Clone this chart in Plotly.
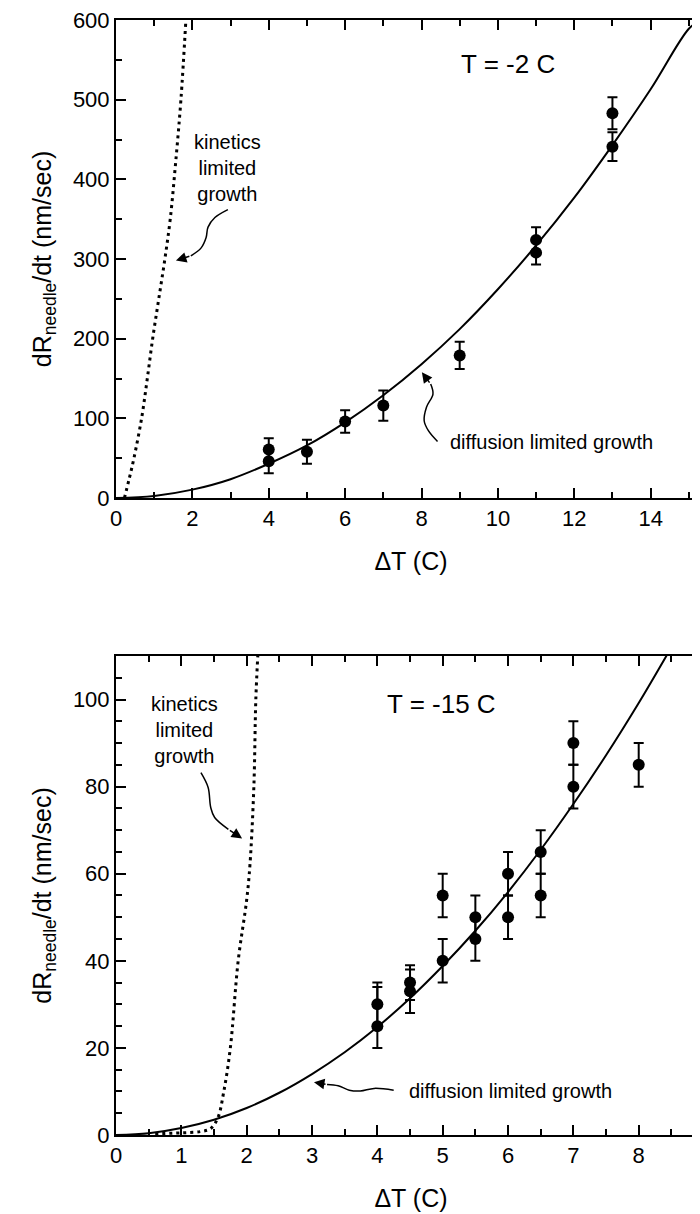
import plotly.graph_objects as go

# ---------------- data: top panel (T = -2 C) ----------------
top_dT = [4, 4, 5, 6, 7, 9, 11, 11, 13, 13]
top_rate = [61, 46, 58, 96, 116, 179, 324, 308, 483, 441]
top_err = [14, 15, 15, 14, 19, 17, 16, 15, 20, 18]

top_diff_x = [0, 1, 2, 3, 4, 5, 6, 7, 8, 9, 10, 11, 12, 13, 14, 15, 15.3]
top_diff_y = [0, 2.6, 10.5, 23.6, 43, 66, 95, 129, 168, 212, 262, 317, 377, 443, 513, 589, 600]

top_kin_x = [0.22, 0.35, 0.47, 0.67, 0.82, 0.96, 1.12, 1.28, 1.42, 1.56, 1.70, 1.83]
top_kin_y = [0, 25, 50, 100, 150, 200, 250, 300, 350, 420, 500, 600]

# ---------------- data: bottom panel (T = -15 C) ----------------
bot_dT = [4, 4, 4.5, 4.5, 5, 5, 5.5, 5.5, 6, 6, 6.5, 6.5, 7, 7, 8]
bot_rate = [30, 25, 35, 33, 55, 40, 50, 45, 60, 50, 65, 55, 90, 80, 85]
bot_err_plus = [5, 9, 4, 5, 5, 5, 5, 5, 5, 5, 5, 5, 5, 5, 5]
bot_err_minus = [5, 5, 4, 5, 5, 5, 5, 5, 5, 5, 5, 5, 5, 5, 5]

bot_diff_x = [0, 0.5, 1, 1.5, 2, 2.5, 3, 3.5, 4, 4.5, 5, 5.5, 6, 6.5, 7, 7.5, 8, 8.45]
bot_diff_y = [0, 0.4, 1.6, 3.5, 6.2, 9.7, 14, 19, 24.8, 31.4, 38.8, 46.9, 55.8, 65.5, 76, 87.2, 99.2, 110.7]

bot_kin_x = [0.6, 1.0, 1.3, 1.45, 1.56, 1.65, 1.75, 1.87, 2.0, 2.05, 2.11, 2.14, 2.17]
bot_kin_y = [0.3, 0.5, 0.8, 1.5, 4, 10, 20, 40, 54, 62, 80, 100, 110]

# curved annotation arrows (body points, last = arrow head)
top_kin_arrow_x = [2.93, 2.59, 2.41, 2.36, 2.23, 1.96, 1.57]
top_kin_arrow_y = [362, 352, 340, 327, 314, 304, 298]
top_diff_arrow_x = [8.42, 8.18, 8.07, 8.13, 8.30, 8.24, 8.01]
top_diff_arrow_y = [71, 84.5, 97, 114, 130.5, 143, 158]
bot_kin_arrow_x = [1.30, 1.41, 1.45, 1.51, 1.72, 1.93]
bot_kin_arrow_y = [83.2, 79.8, 75.2, 72.9, 70.2, 68.1]
bot_diff_arrow_x = [4.25, 3.95, 3.74, 3.57, 3.40, 3.23, 3.03]
bot_diff_arrow_y = [10.3, 10.7, 10.1, 10.3, 11.3, 11.6, 12.1]

FONT = "Liberation Sans, Arial, sans-serif"
BLACK = "#000000"

fig = go.Figure()

def add_panel(xa, ya, dx, dy, kx, ky, px, py, eplus, eminus):
    fig.add_trace(go.Scatter(x=kx, y=ky, mode="lines", xaxis=xa, yaxis=ya,
                             line=dict(color=BLACK, width=3, dash="3px,4px", shape="spline"),
                             showlegend=False, hoverinfo="skip"))
    fig.add_trace(go.Scatter(x=dx, y=dy, mode="lines", xaxis=xa, yaxis=ya,
                             line=dict(color=BLACK, width=2, shape="spline"),
                             showlegend=False, hoverinfo="skip"))
    fig.add_trace(go.Scatter(x=px, y=py, mode="markers", xaxis=xa, yaxis=ya,
                             marker=dict(color=BLACK, size=12),
                             error_y=dict(type="data", symmetric=False, array=eplus,
                                          arrayminus=eminus, color=BLACK,
                                          thickness=2, width=5),
                             showlegend=False))

add_panel("x", "y", top_diff_x, top_diff_y, top_kin_x, top_kin_y,
          top_dT, top_rate, top_err, top_err)
add_panel("x2", "y2", bot_diff_x, bot_diff_y, bot_kin_x, bot_kin_y,
          bot_dT, bot_rate, bot_err_plus, bot_err_minus)

def add_arrow(xa, ya, ax_list, ay_list):
    fig.add_trace(go.Scatter(x=ax_list[:-1], y=ay_list[:-1], mode="lines", xaxis=xa, yaxis=ya,
                             line=dict(color=BLACK, width=1.5, shape="spline"),
                             showlegend=False, hoverinfo="skip"))
    fig.add_annotation(x=ax_list[-1], y=ay_list[-1], ax=ax_list[-2], ay=ay_list[-2],
                       xref=xa, yref=ya, axref=xa, ayref=ya, text="",
                       showarrow=True, arrowhead=2, arrowsize=1.4, arrowwidth=1.5,
                       arrowcolor=BLACK)

add_arrow("x", "y", top_kin_arrow_x, top_kin_arrow_y)
add_arrow("x", "y", top_diff_arrow_x, top_diff_arrow_y)
add_arrow("x2", "y2", bot_kin_arrow_x, bot_kin_arrow_y)
add_arrow("x2", "y2", bot_diff_arrow_x, bot_diff_arrow_y)

txt = dict(font=dict(family=FONT, size=20, color=BLACK), showarrow=False)
big = dict(font=dict(family=FONT, size=26, color=BLACK), showarrow=False)
fig.add_annotation(x=10.26, y=545, xref="x", yref="y", text="T = -2 C", **big)
fig.add_annotation(x=2.93, y=414, xref="x", yref="y",
                   text="kinetics<br>limited<br>growth", align="center", **txt)
fig.add_annotation(x=8.7, y=70, xref="x", yref="y", xanchor="left",
                   text="diffusion limited growth", **txt)
fig.add_annotation(x=4.98, y=99, xref="x2", yref="y2", text="T = -15 C", **big)
fig.add_annotation(x=1.05, y=93, xref="x2", yref="y2",
                   text="kinetics<br>limited<br>growth", align="center", **txt)
fig.add_annotation(x=4.46, y=10, xref="x2", yref="y2", xanchor="left",
                   text="diffusion limited growth", **txt)

axis_common = dict(showline=True, linecolor=BLACK, linewidth=2, mirror="allticks",
                   ticks="inside", ticklen=10, tickwidth=2, tickcolor=BLACK,
                   showgrid=False, zeroline=False, automargin=False,
                   ticklabeloverflow="allow",
                   tickfont=dict(family=FONT, size=22, color=BLACK))
title_font = dict(family=FONT, size=25, color=BLACK)
ytitle = "dR<sub>needle</sub>/dt (nm/sec)"

fig.update_layout(
    width=700, height=1214,
    margin=dict(l=108, r=2, t=12, b=87),
    paper_bgcolor="white", plot_bgcolor="white",
    xaxis=dict(domain=[0, 1], range=[0, 15.45], anchor="y", dtick=2,
               minor=dict(dtick=1, ticks="inside", ticklen=6, tickwidth=2, tickcolor=BLACK),
               title=dict(text="ΔT (C)", font=title_font, standoff=22), **axis_common),
    yaxis=dict(domain=[0.5713, 1], range=[0, 600], anchor="x", dtick=100,
               minor=dict(dtick=50, ticks="inside", ticklen=6, tickwidth=2, tickcolor=BLACK),
               title=dict(text=ytitle, font=title_font, standoff=14),
               **axis_common),
    xaxis2=dict(domain=[0, 1], range=[0, 9.03], anchor="y2", dtick=1,
                minor=dict(dtick=0.5, ticks="inside", ticklen=6, tickwidth=2, tickcolor=BLACK),
                title=dict(text="ΔT (C)", font=title_font, standoff=22), **axis_common),
    yaxis2=dict(domain=[0, 0.4296], range=[0, 110], anchor="x2", dtick=20,
                minor=dict(dtick=5, ticks="inside", ticklen=6, tickwidth=2, tickcolor=BLACK),
                title=dict(text=ytitle, font=title_font, standoff=14),
                **axis_common),
)

fig.write_html("out.html")
